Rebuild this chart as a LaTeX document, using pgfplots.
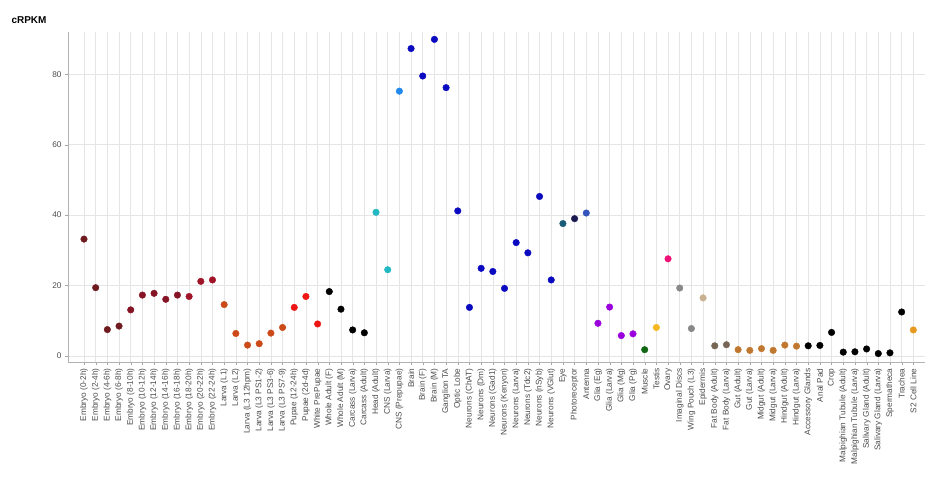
\documentclass[border=0pt]{standalone}
\usepackage{pgfplots}
\pgfplotsset{compat=1.18}
\usepackage{fontspec}
\setmainfont{Liberation Sans}
\definecolor{ea}{HTML}{6E1A1E}
\definecolor{eb}{HTML}{861424}
\definecolor{ec}{HTML}{A01428}
\definecolor{la}{HTML}{CC4A1A}
\definecolor{pu}{HTML}{EE1515}
\definecolor{cy}{HTML}{22B8C2}
\definecolor{lb}{HTML}{2288EE}
\definecolor{nb}{HTML}{0A0AC0}
\definecolor{ey}{HTML}{1A5C78}
\definecolor{ph}{HTML}{1A1A50}
\definecolor{an}{HTML}{3355BB}
\definecolor{gl}{HTML}{9900DD}
\definecolor{mu}{HTML}{116611}
\definecolor{te}{HTML}{F5B820}
\definecolor{ov}{HTML}{EE1177}
\definecolor{gr}{HTML}{888888}
\definecolor{ep}{HTML}{C8B090}
\definecolor{fb}{HTML}{776655}
\definecolor{gu}{HTML}{C07830}
\definecolor{s2}{HTML}{E69A20}
\begin{document}
\begin{tikzpicture}
\path[use as bounding box] (-68bp,-130bp) rectangle (877bp,362bp);
\begin{axis}[at={(0,0)},anchor=south west,scale only axis,width=857bp,height=330bp,
 xmin=-0.37,xmax=73,ymin=-1.7,ymax=92,
 axis lines*=left, axis line style={gray!60},
 xtick={1,...,72}, ytick={0,20,40,60,80},
 grid=major, grid style={gray!20,line width=0.5pt},
 tick style={gray!70}, tick align=outside, major tick length=3bp,
 tick label style={font=\fontsize{8.3}{9}\selectfont, text=black!70},
 /pgf/number format/assume math mode=true,
 xticklabel style={rotate=90,anchor=east},
 xticklabels={Embryo (0-2h),Embryo (2-4h),Embryo (4-6h),Embryo (6-8h),Embryo (8-10h),Embryo (10-12h),Embryo (12-14h),Embryo (14-16h),Embryo (16-18h),Embryo (18-20h),Embryo (20-22h),Embryo (22-24h),Larva (L1),Larva (L2),Larva (L3 12hpm),Larva (L3 PS1-2),Larva (L3 PS3-6),Larva (L3 PS7-9),Pupae (12-24h),Pupae (2d-4d),White PrePupae,Whole Adult (F),Whole Adult (M),Carcass (Larva),Carcass (Adult),Head (Adult),CNS (Larva),CNS (Prepupae),Brain,Brain (F),Brain (M),Ganglion TA,Optic Lobe,Neurons (ChAT),Neurons (Dm),Neurons (Gad1),Neurons (Kenyon),Neurons (Larva),Neurons (Tdc2),Neurons (nSyb),Neurons (VGlut),Eye,Photoreceptor,Antenna,Glia (Eg),Glia (Larva),Glia (Mg),Glia (Pg),Muscle,Testis,Ovary,Imaginal Discs,Wing Pouch (L3),Epidermis,Fat Body (Adult),Fat Body (Larva),Gut (Adult),Gut (Larva),Midgut (Adult),Midgut (Larva),Hindgut (Adult),Hindgut (Larva),Accessory Glands,Anal Pad,Crop,Malpighian Tubule (Adult),Malpighian Tubule (Larva),Salivary Gland (Adult),Salivary Gland (Larva),Spermatheca,Trachea,S2 Cell Line},
 clip=false]
\addplot[scatter, only marks, mark=*, mark size=3.3pt, point meta=explicit symbolic,
 scatter/classes={ea={draw=ea,fill=ea},eb={draw=eb,fill=eb},ec={draw=ec,fill=ec},la={draw=la,fill=la},pu={draw=pu,fill=pu},bk={draw=black,fill=black},cy={draw=cy,fill=cy},lb={draw=lb,fill=lb},nb={draw=nb,fill=nb},ey={draw=ey,fill=ey},ph={draw=ph,fill=ph},an={draw=an,fill=an},gl={draw=gl,fill=gl},mu={draw=mu,fill=mu},te={draw=te,fill=te},ov={draw=ov,fill=ov},gr={draw=gr,fill=gr},ep={draw=ep,fill=ep},fb={draw=fb,fill=fb},gu={draw=gu,fill=gu},s2={draw=s2,fill=s2}}]
 table[meta=c]{
x y c
1 33.2 ea
2 19.4 ea
3 7.5 ea
4 8.5 ea
5 13.1 eb
6 17.3 eb
7 17.8 eb
8 16.1 eb
9 17.3 eb
10 16.9 ec
11 21.2 ec
12 21.6 ec
13 14.6 la
14 6.4 la
15 3.1 la
16 3.5 la
17 6.5 la
18 8.1 la
19 13.8 pu
20 16.9 pu
21 9.1 pu
22 18.3 bk
23 13.3 bk
24 7.4 bk
25 6.6 bk
26 40.8 cy
27 24.5 cy
28 75.2 lb
29 87.3 nb
30 79.5 nb
31 89.9 nb
32 76.2 nb
33 41.2 nb
34 13.8 nb
35 24.9 nb
36 24.0 nb
37 19.2 nb
38 32.2 nb
39 29.3 nb
40 45.3 nb
41 21.6 nb
42 37.6 ey
43 39.0 ph
44 40.6 an
45 9.3 gl
46 13.9 gl
47 5.8 gl
48 6.3 gl
49 1.8 mu
50 8.1 te
51 27.6 ov
52 19.3 gr
53 7.8 gr
54 16.5 ep
55 2.9 fb
56 3.2 fb
57 1.8 gu
58 1.6 gu
59 2.1 gu
60 1.6 gu
61 3.1 gu
62 2.8 gu
63 2.9 bk
64 3.0 bk
65 6.7 bk
66 1.1 bk
67 1.2 bk
68 2.0 bk
69 0.7 bk
70 0.9 bk
71 12.5 bk
72 7.4 s2
};
\end{axis}
\node[anchor=west,font=\bfseries\fontsize{10}{11}\selectfont] at (-60bp,342bp) {cRPKM};
\end{tikzpicture}
\end{document}
